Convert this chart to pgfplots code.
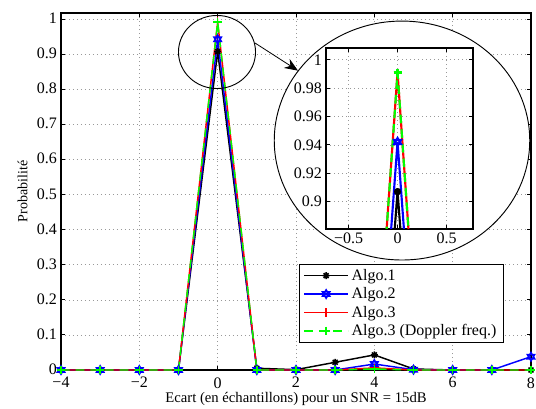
\documentclass[border=0pt]{standalone}
\usepackage{pgfplots}
\pgfplotsset{compat=1.18}
\usepackage{pgfplotstable}
\usepackage{fontspec}
\setmainfont{Liberation Serif}
\usetikzlibrary{arrows.meta}

\pgfdeclareplotmark{hexa}{%
 \pgfpathmoveto{\pgfpointpolar{90}{\pgfplotmarksize}}%
 \pgfpathlineto{\pgfpointpolar{210}{\pgfplotmarksize}}%
 \pgfpathlineto{\pgfpointpolar{330}{\pgfplotmarksize}}%
 \pgfpathclose
 \pgfpathmoveto{\pgfpointpolar{270}{\pgfplotmarksize}}%
 \pgfpathlineto{\pgfpointpolar{30}{\pgfplotmarksize}}%
 \pgfpathlineto{\pgfpointpolar{150}{\pgfplotmarksize}}%
 \pgfpathclose
 \pgfusepathqstroke}
\pgfdeclareplotmark{star8}{%
 \pgfpathmoveto{\pgfpoint{-\pgfplotmarksize}{0pt}}\pgfpathlineto{\pgfpoint{\pgfplotmarksize}{0pt}}%
 \pgfpathmoveto{\pgfpoint{0pt}{-\pgfplotmarksize}}\pgfpathlineto{\pgfpoint{0pt}{\pgfplotmarksize}}%
 \pgfpathmoveto{\pgfpoint{-.707\pgfplotmarksize}{-.707\pgfplotmarksize}}\pgfpathlineto{\pgfpoint{.707\pgfplotmarksize}{.707\pgfplotmarksize}}%
 \pgfpathmoveto{\pgfpoint{-.707\pgfplotmarksize}{.707\pgfplotmarksize}}\pgfpathlineto{\pgfpoint{.707\pgfplotmarksize}{-.707\pgfplotmarksize}}%
 \pgfusepathqstroke}

\pgfplotstableread{
x    a1     a2     a3     a3d
-4   0      0      0      0
-3   0      0      0      0
-2   0      0      0      0
-1   0      0      0      0
0    0.907  0.942  0.991  0.991
1    0.005  0      0      0
2    0.001  0      0      0
3    0.022  0      0      0
4    0.043  0.017  0.006  0.003
5    0.003  0.001  0      0
6    0      0      0      0
7    0      0      0      0
8    0      0.038  0      0
}\datatab

\pgfplotsset{
  mygrid/.style={grid=major, major grid style={line width=0.4pt, gray!80, dash pattern=on 0.6pt off 2.4pt}},
  legend image code/.code={\draw[mark repeat=2,mark phase=2,#1] plot coordinates {(0cm,0cm) (0.58cm,0cm) (1.16cm,0cm)};},
}

\begin{document}
\begin{tikzpicture}
\useasboundingbox (0,0) rectangle (402pt,306pt);
\begin{axis}[
  at={(45.75pt,28.5pt)}, anchor=south west,
  scale only axis, width=352.5pt, height=267.75pt,
  xmin=-4, xmax=8, ymin=0, ymax=1.017,
  xtick={-4,-2,0,2,4,6,8},
  xticklabels={−4,−2,0,2,4,6,8},
  ytick={0,0.1,0.2,0.3,0.4,0.5,0.6,0.7,0.8,0.9,1},
  yticklabels={0,0.1,0.2,0.3,0.4,0.5,0.6,0.7,0.8,0.9,1},
  tick align=inside, major tick length=3pt,
  tick style={line width=0.6pt, black},
  axis line style={line width=0.8pt},
  mygrid,
  ticklabel style={font=\fontsize{12}{13}\selectfont},
  yticklabel style={xshift=0.5pt, yshift=0.5pt},
  xticklabel style={yshift=-2pt},
  xlabel={Ecart (en échantillons) pour un SNR = 15dB},
  ylabel={Probabilité},
  xlabel style={font=\fontsize{11}{12}\selectfont, at={(axis description cs:0.5,-0.081)}, anchor=center},
  ylabel style={font=\fontsize{10.5}{12}\selectfont, at={(axis description cs:-0.0815,0.5)}, anchor=center, rotate=0},
  legend style={at={(0.5064,0.2969)}, anchor=north west, draw=black, line width=0.6pt,
    fill=white, font=\fontsize{12}{13}\selectfont, row sep=0pt, inner xsep=3pt, inner ysep=1.5pt},
  legend cell align=left,
]
\addplot[black, line width=1.1pt, mark=star8, mark size=2.6pt, mark options={solid}] table[x=x,y=a1]{\datatab};
\addlegendentry{Algo.1}
\addplot[blue, line width=1.1pt, mark=hexa, mark size=3.2pt, mark options={solid}] table[x=x,y=a2]{\datatab};
\addlegendentry{Algo.2}
\addplot[red, line width=1.1pt, mark=+, mark size=3.2pt, mark options={solid}] table[x=x,y=a3]{\datatab};
\addlegendentry{Algo.3}
\addplot[green, line width=1.1pt, dash pattern=on 6.5pt off 4.5pt, mark=+, mark size=3.2pt, mark options={solid}] table[x=x,y=a3d]{\datatab};
\addlegendentry{Algo.3 (Doppler freq.)}
\end{axis}

% zoom annotations
\draw[line width=0.7pt, fill=white] (301.5pt,200.6pt) ellipse [x radius=95.8pt, y radius=89.6pt];
\draw[line width=0.7pt] (162.75pt,267pt) ellipse [x radius=28.9pt, y radius=27.4pt];
\draw[line width=0.6pt, -{Stealth[length=10pt,width=8pt]}] (191.25pt,273.75pt) -- (223.5pt,253pt);

\begin{axis}[
  at={(244.5pt,134.25pt)}, anchor=south west,
  scale only axis, width=110.25pt, height=135.75pt,
  xmin=-0.73, xmax=0.77, ymin=0.8807, ymax=1.0083,
  xtick={-0.5,0,0.5},
  xticklabels={−0.5,0,0.5},
  ytick={0.9,0.92,0.94,0.96,0.98,1},
  yticklabels={0.9,0.92,0.94,0.96,0.98,1},
  tick align=inside, major tick length=3pt,
  tick style={line width=0.6pt, black},
  axis line style={line width=0.9pt},
  axis background/.style={fill=white},
  mygrid,
  ticklabel style={font=\fontsize{12}{13}\selectfont},
  yticklabel style={xshift=0.5pt},
  xticklabel style={yshift=1pt},
]
\addplot[black, line width=1.6pt, mark=star8, mark size=2.6pt, mark options={solid}] table[x=x,y=a1]{\datatab};
\addplot[blue, line width=1.6pt, mark=hexa, mark size=3pt, mark options={solid}] table[x=x,y=a2]{\datatab};
\addplot[red, line width=1.6pt, mark=+, mark size=3pt, mark options={solid}] table[x=x,y=a3]{\datatab};
\addplot[green, line width=1.6pt, dash pattern=on 6.5pt off 4.5pt, mark=+, mark size=3pt, mark options={solid}] table[x=x,y=a3d]{\datatab};
\end{axis}
\end{tikzpicture}
\end{document}
